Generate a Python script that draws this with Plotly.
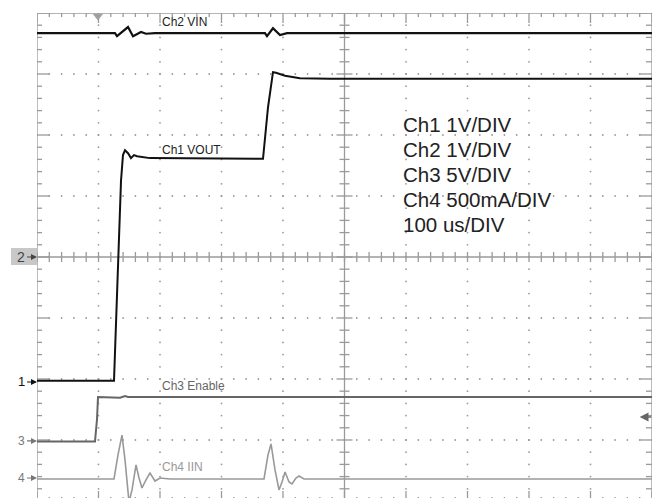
import numpy as np
import plotly.graph_objects as go

# ---------------- data (time in us, values in channel units) ----------------
vin_t = [0, 126.8, 130.1, 138.2, 148.0, 156.1, 162.6, 169.1, 177.2, 191.9,
         370.7, 374.0, 383.7, 395.1, 406.5, 1000]
vin_v = [3.67, 3.67, 3.62, 3.69, 3.77, 3.62, 3.66, 3.69, 3.66, 3.67,
         3.67, 3.62, 3.75, 3.64, 3.67, 3.67]          # V

vout_t = [0, 125.2, 136.6, 139.8, 143.1, 148.0, 152.8, 157.7, 162.6, 170.7, 183.7,
          367.5, 375.6, 383.7, 388.6, 403.3, 427.6, 476.4, 1000]
vout_v = [0.02, 0.02, 3.30, 3.72, 3.80, 3.75, 3.67, 3.72, 3.70, 3.69, 3.67,
          3.66, 4.50, 5.08, 5.07, 5.02, 4.98, 4.97, 4.97]   # V

en_t = [0, 94.3, 97.6, 99.2, 135.0, 143.1, 148.0, 1000]
en_v = [-0.05, -0.05, 1.8, 3.61, 3.55, 3.69, 3.61, 3.61]    # V

iin_t = [0, 125.2, 131.7, 138.2, 143.1, 149.6, 154.5, 161.0, 165.9, 170.7, 177.2,
         183.7, 191.9, 200.0, 216.3, 369.1, 375.6, 380.5, 387.0, 393.5, 398.4,
         403.3, 409.8, 414.6, 421.1, 426.0, 434.1, 1000]
iin_v = [-8, -8, 189, 352, 148, -197, -98, 107, 0, -82, -16,
         41, -25, 0, -8, -8, 189, 279, 66, -98, -33,
         49, -33, -49, 0, 16, -8, -8]                 # mA

channel_labels = ["Ch2 VIN", "Ch1 VOUT", "Ch3 Enable", "Ch4 IIN"]
scale_lines = ["Ch1 1V/DIV", "Ch2 1V/DIV", "Ch3 5V/DIV", "Ch4 500mA/DIV", "100 us/DIV"]
marker_labels = ["2", "1", "3", "4"]

# ---------------- scope settings (layout) ----------------
scales = {"ch1": 1.0, "ch2": 1.0, "ch3": 5.0, "ch4": 500.0}
offsets = {"ch1": -2.049, "ch2": 0.0, "ch3": -3.016, "ch4": -3.623}  # divisions
US_PER_DIV = 100.0
YMIN, YMAX = -3.951, 4.0
PX_X = 1 / 0.615   # us per pixel
PX_Y = 1 / 61.0    # div per pixel

def to_div(vals, ch):
    return [offsets[ch] + v / scales[ch] for v in vals]

fig = go.Figure()

GRID = "#9a9a9a"
# dotted grid
dx, dy = [], []
for k in range(1, 10):
    if k == 5:
        continue
    for yy in np.arange(-4, 4.001, 0.2):
        dx.append(k * US_PER_DIV); dy.append(yy)
for k in range(-3, 4):
    if k == 0:
        continue
    for xx in np.arange(0, 10.001, 0.2):
        dx.append(xx * US_PER_DIV); dy.append(k)
fig.add_trace(go.Scatter(x=dx, y=dy, mode="markers",
                         marker=dict(size=1.8, color=GRID), hoverinfo="skip"))

# center cross + ticks, border ticks
sx, sy = [], []
def seg(x0, y0, x1, y1):
    sx.extend([x0, x1, None]); sy.extend([y0, y1, None])

seg(500, YMIN, 500, 4)
seg(0, 0, 1000, 0)
for i, xx in enumerate(np.arange(0, 10.001, 0.2)):
    major = abs(xx - round(xx)) < 1e-6
    x = xx * US_PER_DIV
    seg(x, -5 * PX_Y, x, 5 * PX_Y)                     # center horiz ticks
    L = 10 if major else 4
    seg(x, 4, x, 4 - L * PX_Y)                          # top ticks
    seg(x, -4, x, -4 + (10 if major else 4) * PX_Y)     # bottom ticks
for yy in np.arange(-4, 4.001, 0.2):
    major = abs(yy - round(yy)) < 1e-6
    L = 8 if major else 5
    seg(500 - L * PX_X, yy, 500 + L * PX_X, yy)         # center vert ticks
    Lb = 12 if major else 5
    seg(0, yy, Lb * PX_X, yy)                           # left ticks
    seg(1000, yy, 1000 - (12 if major else 6) * PX_X, yy)  # right ticks
# border
seg(0, -4, 0, 4); seg(0, 4, 1000, 4); seg(1000, 4, 1000, -4)
fig.add_trace(go.Scatter(x=sx, y=sy, mode="lines",
                         line=dict(color=GRID, width=1.3), hoverinfo="skip"))

# ---------------- waveforms ----------------
fig.add_trace(go.Scatter(x=vin_t, y=to_div(vin_v, "ch2"), mode="lines",
                         line=dict(color="#111111", width=2.2)))
fig.add_trace(go.Scatter(x=vout_t, y=to_div(vout_v, "ch1"), mode="lines",
                         line=dict(color="#111111", width=2)))
fig.add_trace(go.Scatter(x=en_t, y=to_div(en_v, "ch3"), mode="lines",
                         line=dict(color="#666666", width=2)))
fig.add_trace(go.Scatter(x=iin_t, y=to_div(iin_v, "ch4"), mode="lines",
                         line=dict(color="#999999", width=1.6)))

# trigger marker at top
fig.add_trace(go.Scatter(x=[99], y=[4 - 3 * PX_Y], mode="markers", cliponaxis=False,
                         marker=dict(symbol="triangle-down", size=9, color="#a0a0a0"),
                         hoverinfo="skip"))

# ---------------- annotations ----------------
LF = "Liberation Sans"
label_y = [3.852, 1.754, -2.115, -3.443]
label_c = ["#222222", "#222222", "#666666", "#999999"]
for txt, yy, c in zip(channel_labels, label_y, label_c):
    fig.add_annotation(x=200, y=yy, text=txt, showarrow=False, xanchor="left",
                       yanchor="middle", font=dict(family=LF, size=12, color=c))

for i, txt in enumerate(scale_lines):
    fig.add_annotation(x=592, y=2.164 - i * 25 * PX_Y, text=txt, showarrow=False,
                       xanchor="left", yanchor="middle",
                       font=dict(family=LF, size=20.5, color="#222222"))

mk_ch = ["ch2", "ch1", "ch3", "ch4"]
mk_c = ["#444444", "#111111", "#777777", "#777777"]
mk_size = [14, 13, 12, 12]
for txt, ch, c, s in zip(marker_labels, mk_ch, mk_c, mk_size):
    fig.add_annotation(x=0, y=offsets[ch], text=txt, showarrow=True,
                       ax=-10, ay=0, xanchor="right", yanchor="middle",
                       arrowhead=2, arrowsize=1, arrowwidth=1.2, arrowcolor=c,
                       standoff=0, font=dict(family=LF, size=s, color=c))

fig.add_shape(type="rect", xref="paper", yref="y", x0=-26 / 615, x1=0,
              y0=offsets["ch2"] - 8 * PX_Y, y1=offsets["ch2"] + 9 * PX_Y,
              fillcolor="#c8c8c8", line=dict(width=0), layer="below")

fig.add_annotation(x=980, y=-2.623, text="", showarrow=True, ax=13, ay=0,
                   arrowhead=2, arrowsize=1.1, arrowwidth=1.6, arrowcolor="#666666",
                   standoff=0)

fig.update_layout(
    width=657, height=498,
    margin=dict(l=37, r=5, t=13, b=0),
    paper_bgcolor="white", plot_bgcolor="white",
    showlegend=False,
    xaxis=dict(range=[0, 1000], visible=False, fixedrange=True),
    yaxis=dict(range=[YMIN, YMAX], visible=False, fixedrange=True),
)
fig.write_html("out.html", config={"displayModeBar": False},
               post_script="document.body.style.margin='0';"
                           "document.body.style.overflow='hidden';")
